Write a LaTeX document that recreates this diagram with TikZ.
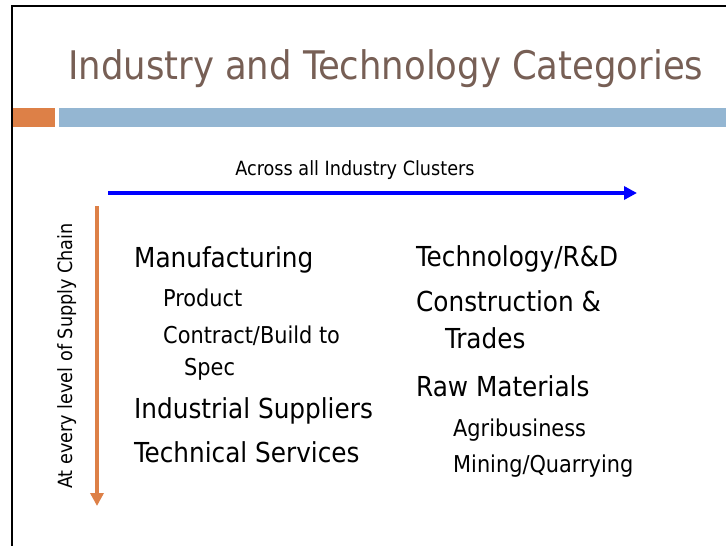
\documentclass[tikz,border=0pt]{standalone}
\usepackage{fontspec}
\setmainfont{DejaVu Sans Condensed}
\usetikzlibrary{arrows.meta}
\definecolor{titlebrown}{HTML}{775F55}
\definecolor{barorange}{HTML}{DD8047}
\definecolor{barblue}{HTML}{94B6D2}
\tikzset{
  item/.style={anchor=base west, inner sep=0pt, font=\fontsize{27.5}{32}\selectfont},
  subitem/.style={anchor=base west, inner sep=0pt, font=\fontsize{23.2}{27}\selectfont},
  small/.style={inner sep=0pt, font=\fontsize{19.6}{23}\selectfont},
}
\begin{document}
\begin{tikzpicture}[x=1pt,y=-1pt]
\useasboundingbox (0,0) rectangle (726,546);
% frame
\draw[line width=2.2pt] (12,546) -- (12,6) -- (726,6);
% title
\node[anchor=base west, inner sep=0pt, text=titlebrown, font=\fontsize{39.4}{44}\selectfont] (title) at (68,79) {Industry and Technology Categories};
% bars
\fill[barorange] (13,108) rectangle (55,127);
\fill[barblue] (59,108) rectangle (726,127);
% horizontal arrow
\coordinate (hs) at (108,193);
\coordinate (he) at (637,193);
\draw[blue, line width=4pt, -{Triangle[length=13pt,width=13pt]}] (hs) -- (he);
\node[small, anchor=base] (across) at (355,175) {Across all Industry Clusters};
% vertical arrow
\coordinate (vs) at (97,206);
\coordinate (ve) at (97,506);
\draw[barorange, line width=4pt, -{Triangle[length=13pt,width=13pt]}] (vs) -- (ve);
\node[small, rotate=90] (supply) at (67,356) {At every level of Supply Chain};
% left column
\node[item] (manu) at (134,267) {Manufacturing};
\node[subitem] (prod) at (163,306) {Product};
\node[subitem] (contract) at (163,343) {Contract/Build to};
\node[subitem] (spec) at (184,375) {Spec};
\node[item] (indsup) at (134,418) {Industrial Suppliers};
\node[item] (techserv) at (134,462) {Technical Services};
% right column
\node[item] (tech) at (416,266) {Technology/R\&D};
\node[item] (constr) at (416,311) {Construction \&};
\node[item] (trades) at (445,348) {Trades};
\node[item] (raw) at (416,396) {Raw Materials};
\node[subitem] (agri) at (453,436) {Agribusiness};
\node[subitem] (mining) at (453,472) {Mining/Quarrying};
\end{tikzpicture}
\end{document}
